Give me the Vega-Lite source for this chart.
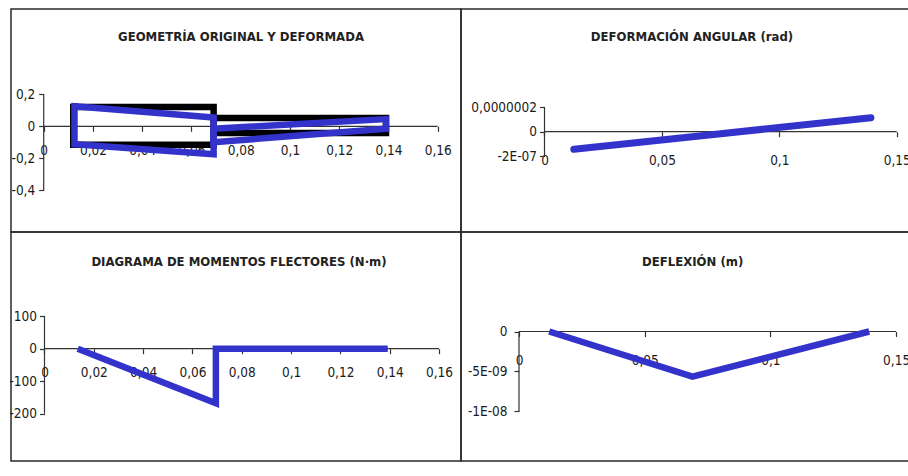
{
  "$schema": "https://vega.github.io/schema/vega-lite/v6.json",
  "background": "white",
  "padding": {"left": 8, "top": 8, "right": 0, "bottom": 0},
  "spacing": 0,
  "bounds": "flush",
  "columns": 2,
  "datasets": {
    "geo": [
      {"serie": "Original", "trazo": "OA", "i": 1, "x": 0.012, "y": 0.12},
      {"serie": "Original", "trazo": "OA", "i": 2, "x": 0.069, "y": 0.12},
      {"serie": "Original", "trazo": "OA", "i": 3, "x": 0.069, "y": -0.115},
      {"serie": "Original", "trazo": "OA", "i": 4, "x": 0.012, "y": -0.115},
      {"serie": "Original", "trazo": "OA", "i": 5, "x": 0.012, "y": 0.12},
      {"serie": "Original", "trazo": "OB", "i": 1, "x": 0.069, "y": 0.052},
      {"serie": "Original", "trazo": "OB", "i": 2, "x": 0.139, "y": 0.052},
      {"serie": "Original", "trazo": "OB", "i": 3, "x": 0.139, "y": -0.042},
      {"serie": "Original", "trazo": "OB", "i": 4, "x": 0.069, "y": -0.042},
      {"serie": "Deformada", "trazo": "DA", "i": 1, "x": 0.0125, "y": 0.125},
      {"serie": "Deformada", "trazo": "DA", "i": 2, "x": 0.069, "y": 0.055},
      {"serie": "Deformada", "trazo": "DA", "i": 3, "x": 0.069, "y": -0.175},
      {"serie": "Deformada", "trazo": "DA", "i": 4, "x": 0.0125, "y": -0.112},
      {"serie": "Deformada", "trazo": "DA", "i": 5, "x": 0.0125, "y": 0.125},
      {"serie": "Deformada", "trazo": "DB", "i": 1, "x": 0.069, "y": -0.015},
      {"serie": "Deformada", "trazo": "DB", "i": 2, "x": 0.139, "y": 0.045},
      {"serie": "Deformada", "trazo": "DB", "i": 3, "x": 0.139, "y": -0.015},
      {"serie": "Deformada", "trazo": "DB", "i": 4, "x": 0.069, "y": -0.1},
      {"serie": "Deformada", "trazo": "DB", "i": 5, "x": 0.069, "y": -0.015}
    ],
    "giro": [
      {"i": 1, "x": 0.0125, "y": -1.45e-7},
      {"i": 2, "x": 0.07, "y": -2.7e-8},
      {"i": 3, "x": 0.139, "y": 1.15e-7}
    ],
    "momento": [
      {"i": 1, "x": 0.0135, "y": 0},
      {"i": 2, "x": 0.0695, "y": -168},
      {"i": 3, "x": 0.0695, "y": 0},
      {"i": 4, "x": 0.1392, "y": 0}
    ],
    "flecha": [
      {"i": 1, "x": 0.012, "y": 0},
      {"i": 2, "x": 0.069, "y": -5.65e-9},
      {"i": 3, "x": 0.1393, "y": 0}
    ]
  },
  "concat": [
    {
      "width": 450,
      "height": 223,
      "title": {"text": "GEOMETRÍA  ORIGINAL Y DEFORMADA", "offset": -41.2, "baseline": "middle", "dx": 5},
      "layer": [
        {
          "data": {"values": [{}]},
          "mark": {"type": "rule", "color": "#333", "strokeWidth": 1.2},
          "encoding": {"x": {"datum": 0, "type": "quantitative"}, "x2": {"datum": 0.16}, "y": {"datum": 0, "type": "quantitative"}}
        },
        {
          "data": {"values": [{}]},
          "mark": {"type": "rule", "color": "#333", "strokeWidth": 1.2},
          "encoding": {"x": {"datum": 0, "type": "quantitative"}, "y": {"datum": -0.4, "type": "quantitative"}, "y2": {"datum": 0.2}}
        },
        {
          "data": {"name": "geo"},
          "mark": {"type": "line", "strokeWidth": 6.5, "strokeJoin": "miter", "strokeCap": "square"},
          "encoding": {
            "x": {"field": "x", "type": "quantitative", "scale": {"domain": [-0.01328, 0.16946], "nice": false, "zero": false},
              "axis": {"values": [0, 0.02, 0.04, 0.06, 0.08, 0.1, 0.12, 0.14, 0.16], "offset": -105.7, "labelPadding": 19, "labelExpr": "replace('' + datum.value, '.', ',')"}},
            "y": {"field": "y", "type": "quantitative", "scale": {"domain": [-0.6606, 0.7331], "nice": false, "zero": false},
              "axis": {"values": [-0.4, -0.2, 0, 0.2], "offset": -32.7, "labelPadding": 4, "labelExpr": "replace('' + datum.value, '.', ',')"}},
            "color": {"field": "serie", "type": "nominal", "scale": {"domain": ["Original", "Deformada"], "range": ["#000000", "#3333CC"]}, "legend": null},
            "detail": {"field": "trazo"},
            "order": {"field": "i", "type": "quantitative"}
          }
        }
      ]
    },
    {
      "width": 448,
      "height": 223,
      "title": {"text": "DEFORMACIÓN  ANGULAR (rad)", "offset": -41.2, "baseline": "middle", "dx": 7},
      "layer": [
        {
          "data": {"values": [{}]},
          "mark": {"type": "rule", "color": "#333", "strokeWidth": 1.2},
          "encoding": {"x": {"datum": 0, "type": "quantitative"}, "x2": {"datum": 0.15}, "y": {"datum": 0, "type": "quantitative"}}
        },
        {
          "data": {"values": [{}]},
          "mark": {"type": "rule", "color": "#333", "strokeWidth": 1.2},
          "encoding": {"x": {"datum": 0, "type": "quantitative"}, "y": {"datum": -2e-7, "type": "quantitative"}, "y2": {"datum": 2e-7}}
        },
        {
          "data": {"name": "giro"},
          "mark": {"type": "line", "strokeWidth": 7, "strokeCap": "round", "color": "#3333CC"},
          "encoding": {
            "x": {"field": "x", "type": "quantitative", "scale": {"domain": [-0.03556, 0.15524], "nice": false, "zero": false},
              "axis": {"values": [0, 0.05, 0.1, 0.15], "offset": -100.3, "labelPadding": 24, "labelExpr": "replace('' + datum.value, '.', ',')"}},
            "y": {"field": "y", "type": "quantitative", "scale": {"domain": [-8.255e-7, 1.0099e-6], "nice": false, "zero": false},
              "axis": {"values": [-2e-7, 0, 2e-7], "offset": -83.5, "labelPadding": 3, "labelExpr": "datum.value > 0 ? '0,0000002' : (datum.value < 0 ? '-2E-07' : '0')"}},
            "order": {"field": "i", "type": "quantitative"}
          }
        }
      ]
    },
    {
      "width": 450,
      "height": 229,
      "title": {"text": "DIAGRAMA DE MOMENTOS FLECTORES  (N·m)", "offset": -43, "baseline": "middle", "dx": 3},
      "layer": [
        {
          "data": {"values": [{}]},
          "mark": {"type": "rule", "color": "#333", "strokeWidth": 1.2},
          "encoding": {"x": {"datum": 0, "type": "quantitative"}, "x2": {"datum": 0.16}, "y": {"datum": 0, "type": "quantitative"}}
        },
        {
          "data": {"values": [{}]},
          "mark": {"type": "rule", "color": "#333", "strokeWidth": 1.2},
          "encoding": {"x": {"datum": 0, "type": "quantitative"}, "y": {"datum": -200, "type": "quantitative"}, "y2": {"datum": 100}}
        },
        {
          "data": {"name": "momento"},
          "mark": {"type": "line", "strokeWidth": 6.5, "strokeJoin": "miter", "color": "#3333CC"},
          "encoding": {
            "x": {"field": "x", "type": "quantitative", "scale": {"domain": [-0.01358, 0.1689], "nice": false, "zero": false},
              "axis": {"values": [0, 0.02, 0.04, 0.06, 0.08, 0.1, 0.12, 0.14, 0.16], "offset": -112.3, "labelPadding": 19, "labelExpr": "replace('' + datum.value, '.', ',')"}},
            "y": {"field": "y", "type": "quantitative", "scale": {"domain": [-345.5, 359.1], "nice": false, "zero": false},
              "axis": {"values": [-200, -100, 0, 100], "offset": -33.5, "labelPadding": 3, "labelExpr": "'' + datum.value"}},
            "order": {"field": "i", "type": "quantitative"}
          }
        }
      ]
    },
    {
      "width": 448,
      "height": 229,
      "title": {"text": "DEFLEXIÓN  (m)", "offset": -43, "baseline": "middle", "dx": 7.7},
      "layer": [
        {
          "data": {"values": [{}]},
          "mark": {"type": "rule", "color": "#333", "strokeWidth": 1.2},
          "encoding": {"x": {"datum": 0, "type": "quantitative"}, "x2": {"datum": 0.15}, "y": {"datum": 0, "type": "quantitative"}}
        },
        {
          "data": {"values": [{}]},
          "mark": {"type": "rule", "color": "#333", "strokeWidth": 1.2},
          "encoding": {"x": {"datum": 0, "type": "quantitative"}, "y": {"datum": -1e-8, "type": "quantitative"}, "y2": {"datum": 0}}
        },
        {
          "data": {"name": "flecha"},
          "mark": {"type": "line", "strokeWidth": 6.5, "strokeJoin": "miter", "color": "#3333CC"},
          "encoding": {
            "x": {"field": "x", "type": "quantitative", "scale": {"domain": [-0.02307, 0.15513], "nice": false, "zero": false},
              "axis": {"values": [0, 0.05, 0.1, 0.15], "offset": -129.5, "labelPadding": 24, "labelExpr": "replace('' + datum.value, '.', ',')"}},
            "y": {"field": "y", "type": "quantitative", "scale": {"domain": [-1.6188e-8, 1.2438e-8], "nice": false, "zero": false},
              "axis": {"values": [-1e-8, -5e-9, 0], "offset": -58, "labelPadding": 7, "labelExpr": "datum.value == 0 ? '0' : (datum.value < -7e-9 ? '-1E-08' : '-5E-09')"}},
            "order": {"field": "i", "type": "quantitative"}
          }
        }
      ]
    }
  ],
  "config": {
    "view": {"stroke": "#2a2a2a", "strokeWidth": 1.5},
    "concat": {"spacing": 0},
    "title": {"font": "DejaVu Sans Condensed, Liberation Sans Narrow, sans-serif", "fontSize": 13, "fontWeight": "bold", "color": "#222222", "anchor": "middle", "frame": "group"},
    "axis": {
      "domain": false,
      "grid": false,
      "title": null,
      "ticks": true,
      "tickSize": 5,
      "tickColor": "#333333",
      "tickWidth": 1.2,
      "labelFont": "DejaVu Sans Condensed, Liberation Sans Narrow, sans-serif",
      "labelFontSize": 13.5,
      "labelColor": "#1a1a1a",
      "labelOverlap": false,
      "labelFlush": false,
      "labelBound": false
    },
    "axisX": {"labelBaseline": "middle"},
    "axisY": {"labelBaseline": "middle"}
  }
}
